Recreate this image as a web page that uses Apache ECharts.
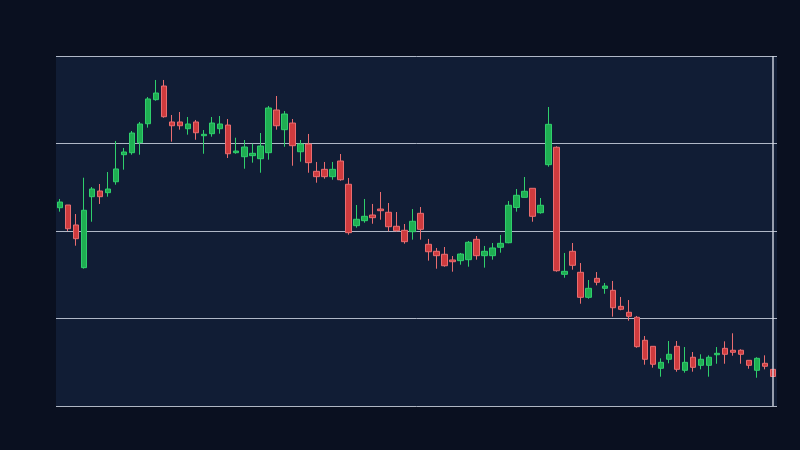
<!DOCTYPE html>
<html>
<head>
<meta charset="utf-8">
<script src="https://cdn.jsdelivr.net/npm/echarts@6/dist/echarts.min.js"></script>
<style>
html,body{margin:0;padding:0;background:#0a1020;}
#chart{width:800px;height:450px;}
</style>
</head>
<body>
<div id="chart"></div>
<script>
// candle index labels
const categories = Array.from({length: 90}, (_, i) => 'D' + (i + 1));

// OHLC values: [open, close, low, high]
const opens = [82.66,82.97,80.69,75.81,83.92,84.57,84.38,85.63,88.72,88.95,
  90.09,92.26,95.01,96.57,92.46,92.46,91.69,92.46,90.89,91.12,
  91.69,92.11,88.95,88.49,88.61,88.26,88.95,93.83,91.58,92.34,
  89.06,89.94,86.82,87.05,86.21,88.00,85.34,80.61,81.18,81.83,
  82.51,82.14,80.54,80.08,79.92,82.02,78.48,77.68,77.34,76.69,
  76.61,76.72,79.05,77.18,77.18,78.14,78.66,82.69,83.85,84.88,
  82.09,87.58,89.57,75.05,77.68,75.28,72.42,74.59,73.45,73.22,
  71.39,70.71,70.14,67.51,66.82,64.31,65.34,66.82,64.08,65.57,
  64.65,64.65,65.86,66.59,66.37,66.37,65.22,64.08,64.88,64.19];
const closes = [83.31,80.26,79.12,82.37,84.80,83.92,84.80,87.09,89.03,91.20,
  92.23,95.09,95.77,93.06,92.03,92.03,92.23,91.23,91.05,92.34,
  92.23,88.83,89.14,89.60,88.88,89.71,94.06,92.03,93.37,89.75,
  89.94,87.81,86.21,86.21,87.05,85.86,79.81,81.34,81.68,81.52,
  82.32,80.49,80.03,78.78,81.11,80.19,77.63,77.18,76.03,76.49,
  77.37,78.71,77.18,77.68,78.06,78.59,82.94,84.08,84.54,81.68,
  82.94,92.19,75.46,75.39,76.08,72.42,73.45,74.14,73.71,71.23,
  71.05,70.25,66.78,65.34,64.77,64.99,65.91,64.19,64.99,64.42,
  65.34,65.57,66.02,65.91,66.14,65.91,64.65,65.45,64.54,63.37];
const lows = [82.21,80.00,78.32,75.70,81.06,83.09,83.92,85.29,87.01,88.72,
  88.72,91.81,94.89,92.95,90.21,91.58,91.01,90.43,88.83,90.78,
  91.12,88.34,88.83,87.12,87.81,86.66,88.15,91.58,89.63,87.46,
  87.92,86.66,85.52,85.98,85.86,85.75,79.58,80.38,80.95,80.83,
  81.29,79.97,79.92,78.55,79.01,79.01,76.61,75.69,75.92,75.35,
  76.15,75.92,76.72,75.81,76.72,77.52,78.60,82.21,83.85,81.06,
  81.98,87.35,75.35,74.66,75.58,71.69,72.26,73.79,72.83,70.21,
  70.94,69.75,66.66,64.72,64.38,63.35,64.88,63.92,63.81,63.92,
  64.19,63.35,64.83,64.83,65.75,64.83,64.26,63.23,64.19,63.37];
const highs = [83.66,82.97,81.94,86.09,85.03,85.37,86.74,90.29,89.49,91.43,
  92.46,95.31,97.26,97.26,93.26,93.60,93.03,92.69,91.54,93.03,
  93.14,92.80,90.66,90.40,89.98,91.20,94.29,95.43,93.71,92.80,
  90.40,91.09,87.89,87.89,87.89,88.80,86.06,82.97,83.66,83.09,
  84.46,83.20,82.17,80.80,82.51,82.74,79.09,78.06,78.17,77.14,
  77.49,78.86,79.43,78.29,78.63,79.54,83.43,84.80,86.17,84.88,
  83.77,94.17,89.68,77.49,78.63,76.34,74.40,75.31,74.06,74.29,
  72.46,72.11,70.29,68.00,66.82,65.45,67.43,67.43,66.74,66.17,
  65.91,65.79,66.74,67.39,68.31,66.48,65.22,65.57,65.79,64.19];

const yTicks = [60, 70, 80, 90, 100];

const ohlc = opens.map((o, i) => [o, closes[i], lows[i], highs[i]]);

const chart = echarts.init(document.getElementById('chart'));
chart.setOption({
  backgroundColor: '#0a1020',
  animation: false,
  grid: {
    left: 56, right: 23, top: 56, bottom: 44,
    show: true, backgroundColor: '#111d35', borderWidth: 0
  },
  xAxis: {
    type: 'category',
    data: categories,
    boundaryGap: true,
    axisLine: {show: false},
    axisTick: {show: false},
    axisLabel: {show: false},
    splitLine: {show: false}
  },
  yAxis: {
    type: 'value',
    min: yTicks[0],
    max: yTicks[yTicks.length - 1],
    interval: yTicks[1] - yTicks[0],
    axisLine: {show: false},
    axisTick: {show: false},
    axisLabel: {show: false},
    splitLine: {show: true, lineStyle: {color: 'rgba(205,212,224,0.85)', width: 1}}
  },
  series: [{
    type: 'candlestick',
    data: ohlc,
    barWidth: 6,
    itemStyle: {
      color: '#1fae52',
      color0: '#cf3b3e',
      borderColor: '#2fcf6c',
      borderColor0: '#ea6d70',
      borderWidth: 1
    },
    markLine: {
      silent: true,
      symbol: ['none', 'none'],
      label: {show: false},
      lineStyle: {color: 'rgba(215,220,230,0.9)', type: 'solid', width: 1.5},
      data: [{xAxis: categories.length - 1}]
    }
  }]
});
</script>
</body>
</html>
